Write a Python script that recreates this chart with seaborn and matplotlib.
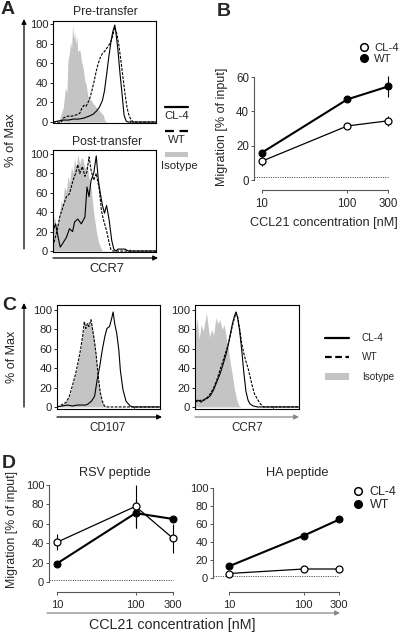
import numpy as np
import matplotlib
matplotlib.use("Agg")
import matplotlib.pyplot as plt
from matplotlib.patches import FancyArrowPatch, Rectangle, Patch
from matplotlib.lines import Line2D
import seaborn as sns

# ---------------- data ----------------
# flow histograms: channel position (0-100 across the log axis) and % of max
pre_iso_u = [0, 5, 6, 10, 12, 13.5, 14.5, 16, 17, 18, 19, 20, 21, 22, 23, 24, 26, 28, 29, 31, 32, 34, 37, 39, 42, 45, 47, 49, 50, 52, 100]
pre_iso_y = [0, 0, 2, 15, 35, 30, 63, 70, 82, 75, 99, 85, 92, 80, 88, 72, 74, 60, 57, 42, 39, 26, 22, 19, 15, 12, 9, 7, 2, 0, 0]
pre_cl4_u = [0, 5, 10, 15, 20, 25, 30, 35, 39, 42, 45, 48, 50, 52, 54, 56, 58, 60, 61, 63, 65, 67, 69, 71, 73, 100]
pre_cl4_y = [0, 1, 2, 2, 3, 3, 4, 6, 8, 11, 15, 22, 32, 48, 65, 80, 92, 99, 92, 74, 50, 29, 7, 1, 0, 0]
pre_wt_u = [0, 8, 10, 14, 18, 22, 26, 28, 30, 32, 34, 36, 38, 40, 42, 44, 46, 48, 50, 52, 54, 56, 58, 60, 62, 64, 66, 68, 70, 72, 74, 76, 78, 100]
pre_wt_y = [0, 0, 4, 6, 6, 7, 9, 14, 17, 16, 20, 25, 33, 42, 52, 60, 66, 70, 72, 75, 78, 82, 88, 97, 90, 78, 62, 45, 28, 14, 6, 2, 0, 0]

post_iso_u = [0, 1.5, 3, 5, 6.5, 8, 9.5, 11, 13, 14.5, 16, 18, 19.5, 21, 22.5, 24, 26, 27.5, 29, 31, 33, 35, 36.5, 38, 39.5, 41, 42.5, 44, 46, 48, 100]
post_iso_y = [30, 35, 26, 30, 40, 52, 48, 66, 62, 77, 70, 87, 80, 95, 86, 99, 90, 96, 95, 85, 90, 75, 68, 55, 40, 28, 18, 10, 4, 0, 0]
post_cl4_u = [0, 2.5, 5, 7, 9.5, 13, 16, 19, 21, 24, 27.5, 31, 33, 35, 37, 39.5, 42, 44, 46, 48, 50, 52, 54.5, 57, 59, 61, 63, 66, 70, 73, 75, 100]
post_cl4_y = [21, 28, 14, 4, 8, 14, 23, 20, 30, 33, 28, 35, 66, 56, 73, 80, 98, 73, 59, 47, 39, 47, 32, 11, 2, 0, 2, 2, 2, 0, 0, 0]
post_wt_u = [0, 1.5, 4, 6.5, 9.5, 13, 16, 19.5, 22, 24, 26, 28.5, 31, 33, 35, 37, 39.5, 42, 45, 47, 49, 52, 54, 56, 58, 100]
post_wt_y = [5, 11, 21, 35, 45, 56, 59, 73, 80, 89, 80, 87, 77, 82, 97, 83, 73, 80, 63, 42, 32, 21, 11, 2, 0, 0]

cd107_iso_u = [0, 2.5, 6, 9, 13, 16, 19, 21, 23.5, 25, 27, 28.5, 30, 32, 33.5, 35, 36.5, 38, 40, 41.5, 43, 45.5, 48, 100]
cd107_iso_y = [0, 0, 3, 6, 13, 26, 38, 49, 62, 76, 86, 83, 88, 85, 88, 79, 69, 52, 31, 18, 8, 2, 0, 0]
cd107_wt_u = [0, 2.5, 6, 9, 12, 15, 18, 20.5, 23, 25, 26.5, 28, 29.5, 31, 33, 34.5, 36, 38, 40, 42, 44, 46, 49, 100]
cd107_wt_y = [0, 1, 3, 5, 11, 22, 34, 46, 60, 74, 88, 81, 86, 83, 90, 80, 70, 54, 32, 15, 6, 1, 0, 0]
cd107_cl4_u = [0, 5, 10, 15, 20, 25, 28, 30, 33.5, 36.5, 39, 41.5, 44, 46.5, 48.5, 51, 53, 54.5, 56, 58, 60, 61.5, 64, 67, 71, 74, 100]
cd107_cl4_y = [0, 1, 2, 1, 2, 2, 2, 3, 6, 11, 28, 42, 59, 73, 81, 83, 91, 98, 86, 76, 59, 38, 18, 6, 1, 0, 0]

ccr7_iso_u = [0, 2, 4, 6, 8, 11, 12, 14, 16, 18, 20, 22, 24, 26, 28, 30, 32, 34, 36, 38, 40, 42, 44, 100]
ccr7_iso_y = [75, 92, 70, 85, 78, 97, 88, 72, 80, 74, 92, 86, 90, 80, 85, 72, 60, 45, 32, 18, 8, 2, 0, 0]
ccr7_cl4_u = [0, 3, 6, 9, 12, 15, 18, 21, 24, 27, 30, 32, 34, 36, 38, 39.5, 41, 43, 45, 47, 49, 51, 53, 56, 60, 100]
ccr7_cl4_y = [6, 7, 5, 8, 9, 12, 18, 26, 34, 44, 55, 64, 75, 86, 94, 98, 92, 78, 58, 35, 16, 7, 3, 1, 0, 0]
ccr7_wt_u = [0, 3, 6, 9, 12, 15, 18, 21, 24, 27, 30, 32, 34, 36, 38, 39.5, 41, 43, 45, 47, 49, 51, 53, 55, 57, 60, 63, 66, 100]
ccr7_wt_y = [5, 6, 7, 7, 10, 14, 20, 28, 38, 48, 58, 65, 74, 84, 92, 97, 93, 80, 65, 55, 47, 40, 31, 22, 14, 8, 3, 0, 0]

# migration assays
conc = [10, 100, 300]
conc_labels = ["10", "100", "300"]
baseline = 2

b_cl4 = [11, 31.5, 34.5]
b_cl4_err = [3, 1, 3]
b_wt = [16, 47, 54.5]
b_wt_err = [1, 1, 6]

rsv_cl4 = [41, 78, 45]
rsv_cl4_err = [8, 22, 15]
rsv_wt = [19, 71, 65]
rsv_wt_err = [1, 15, 2]

ha_cl4 = [5, 10, 10]
ha_cl4_err = [1, 1, 2]
ha_wt = [13, 47, 65]
ha_wt_err = [1, 2, 1]

GRAY = "#c4c4c4"

sns.set_style("ticks")
plt.rcParams["font.family"] = ["Liberation Sans", "DejaVu Sans"]
plt.rcParams["axes.linewidth"] = 0.8

W, H = 400, 632
fig = plt.figure(figsize=(W / 100, H / 100), dpi=100)


def add_box(x0, y0, x1, y1):
    return fig.add_axes([x0 / W, 1 - y1 / H, (x1 - x0) / W, (y1 - y0) / H])


def ftext(x, y, s, **kw):
    kw.setdefault("ha", "center")
    kw.setdefault("va", "center")
    fig.text(x / W, 1 - y / H, s, **kw)


def farrow(x0, y0, x1, y1, color="black"):
    fig.add_artist(FancyArrowPatch((x0 / W, 1 - y0 / H), (x1 / W, 1 - y1 / H),
                                   transform=fig.transFigure, arrowstyle="-|>",
                                   mutation_scale=7, lw=0.9, color=color,
                                   shrinkA=0, shrinkB=0))


def to_x(u):
    return 10 ** (np.array(u) / 25)


def histo(ax, iso, cl4, wt, ylim, tick_size):
    ax.fill_between(to_x(iso[0]), iso[1], color=GRAY, lw=0)
    sns.lineplot(x=to_x(wt[0]), y=wt[1], ax=ax, color="black", lw=0.8,
                 linestyle=(0, (2.5, 1.2)), estimator=None, sort=False)
    sns.lineplot(x=to_x(cl4[0]), y=cl4[1], ax=ax, color="black", lw=0.8,
                 estimator=None, sort=False)
    ax.set_xscale("log")
    ax.set_xlim(1, 1e4)
    ax.set_ylim(*ylim)
    ax.set_yticks([0, 20, 40, 60, 80, 100])
    ax.tick_params(axis="y", length=2.5, width=0.7, pad=1, labelsize=tick_size)
    ax.tick_params(axis="x", which="both", direction="in", length=2, width=0.5,
                   labelbottom=False)
    ax.set_xlabel("")
    ax.set_ylabel("")
    for s in ax.spines.values():
        s.set_color("black")


def migration(ax, cl4, cl4_err, wt, wt_err, xlim, ylim, ymax, offset, tick_size):
    ax.errorbar(conc, wt, yerr=wt_err, fmt="none", ecolor="black", elinewidth=0.8, capsize=0)
    ax.errorbar(conc, cl4, yerr=cl4_err, fmt="none", ecolor="black", elinewidth=0.8, capsize=0)
    sns.lineplot(x=conc, y=wt, ax=ax, color="black", lw=1.5, marker="o", markersize=5,
                 markerfacecolor="black", markeredgecolor="black", zorder=3)
    sns.lineplot(x=conc, y=cl4, ax=ax, color="black", lw=0.9, marker="o", markersize=5,
                 markerfacecolor="white", markeredgecolor="black", markeredgewidth=0.9, zorder=4)
    ax.set_xscale("log")
    ax.set_xlim(*xlim)
    ax.set_ylim(*ylim)
    ax.hlines(baseline, xlim[0], conc[-1], colors="#555555", linestyles=(0, (1.2, 1.2)), lw=0.7)
    ax.set_xticks(conc)
    ax.set_xticklabels(conc_labels)
    ax.minorticks_off()
    ax.spines["top"].set_visible(False)
    ax.spines["right"].set_visible(False)
    ax.spines["bottom"].set_position(("outward", offset))
    ax.spines["bottom"].set_bounds(conc[0], conc[-1])
    ax.spines["left"].set_bounds(0, ymax)
    ax.spines["bottom"].set_color("#555555")
    ax.spines["left"].set_color("#555555")
    ax.tick_params(axis="x", length=2, width=0.7, pad=4, labelsize=tick_size, color="#555555")
    ax.tick_params(axis="y", length=2.5, width=0.7, pad=1, labelsize=tick_size, color="#555555")
    ax.set_xlabel("")
    ax.set_ylabel("")


# ---------------- panel A ----------------
ax_pre = add_box(53, 21, 156, 123)
histo(ax_pre, (pre_iso_u, pre_iso_y), (pre_cl4_u, pre_cl4_y), (pre_wt_u, pre_wt_y), (-1, 103.1), 8)
ax_post = add_box(53, 150, 156, 252)
histo(ax_post, (post_iso_u, post_iso_y), (post_cl4_u, post_cl4_y), (post_wt_u, post_wt_y), (-1, 104.1), 8)

ftext(8, 10, "A", fontsize=14, fontweight="bold")
ftext(105, 12, "Pre-transfer", fontsize=8.8)
ftext(107, 142, "Post-transfer", fontsize=8.8)
farrow(24, 249, 24, 19)
ftext(11, 140, "% of Max", fontsize=9.3, rotation=90)
farrow(53, 258, 158, 258)
ftext(107, 269, "CCR7", fontsize=9.3)

# legend of A (line above label)
fig.add_artist(Line2D([165 / W, 188 / W], [1 - 107 / H, 1 - 107 / H], color="black", lw=1.6,
                      transform=fig.transFigure))
ftext(177, 116, "CL-4", fontsize=8.2)
fig.add_artist(Line2D([165 / W, 188 / W], [1 - 131 / H, 1 - 131 / H], color="black", lw=1.6,
                      linestyle=(0, (4, 2.5)), transform=fig.transFigure))
ftext(177, 140, "WT", fontsize=8.2)
fig.add_artist(Rectangle((165 / W, 1 - 157 / H), 23 / W, 5 / H, color=GRAY, lw=0,
                         transform=fig.transFigure))
ftext(179, 166, "Isotype", fontsize=8.2)

# ---------------- panel B ----------------
ax_b = add_box(254, 75, 392, 181)
migration(ax_b, b_cl4, b_cl4_err, b_wt, b_wt_err, (8.05, 334), (-0.58, 61.2), 60, 6.5, 8.3)
ax_b.set_yticks([0, 20, 40, 60])
ftext(224, 11, "B", fontsize=14, fontweight="bold")
ftext(222, 127, "Migration [% of input]", fontsize=9, rotation=90)
ftext(324, 223, "CCL21 concentration [nM]", fontsize=9.2)
ax_b.legend(handles=[Line2D([], [], ls="none", marker="o", ms=5.5, mfc="white", mec="black", mew=1.1),
                     Line2D([], [], ls="none", marker="o", ms=5.5, mfc="black", mec="black")],
            labels=["CL-4", "WT"], loc="upper left", bbox_to_anchor=(354 / W, 1 - 37 / H),
            bbox_transform=fig.transFigure, frameon=False, handlelength=0.8,
            handletextpad=0.45, labelspacing=0.1, borderpad=0, fontsize=8.2)

# ---------------- panel C ----------------
ax_c1 = add_box(57, 305, 160, 409)
histo(ax_c1, (cd107_iso_u, cd107_iso_y), (cd107_cl4_u, cd107_cl4_y), (cd107_wt_u, cd107_wt_y), (-2.1, 105.2), 8.2)
ax_c2 = add_box(195, 305, 299, 409)
histo(ax_c2, (ccr7_iso_u, ccr7_iso_y), (ccr7_cl4_u, ccr7_cl4_y), (ccr7_wt_u, ccr7_wt_y), (-2.1, 105.2), 8.2)

ftext(9, 305, "C", fontsize=14, fontweight="bold")
farrow(24, 407, 24, 303)
ftext(12, 357, "% of Max", fontsize=9, rotation=90)
farrow(57, 417, 162, 417)
ftext(108, 428, "CD107", fontsize=8.4)
farrow(195, 417, 299, 417, color="#888888")
ftext(247, 428, "CCR7", fontsize=8.4)

ax_c2.legend(handles=[Line2D([], [], color="black", lw=1.6),
                      Line2D([], [], color="black", lw=1.6, linestyle=(0, (3, 1.6))),
                      Patch(facecolor=GRAY, edgecolor="none")],
             labels=["CL-4", "WT", "Isotype"], loc="upper left",
             bbox_to_anchor=(320 / W, 1 - 328 / H), bbox_transform=fig.transFigure,
             frameon=False, handlelength=2.4, handletextpad=1.3, labelspacing=0.95,
             borderpad=0, fontsize=7.2)

# ---------------- panel D ----------------
ax_d1 = add_box(49, 480, 178, 583)
migration(ax_d1, rsv_cl4, rsv_cl4_err, rsv_wt, rsv_wt_err, (7.93, 347), (-1.03, 105.2), 100, 6.5, 8)
ax_d1.set_yticks([0, 20, 40, 60, 80, 100])
ftext(115, 473, "RSV peptide", fontsize=9.2)

ax_d2 = add_box(213, 484, 344, 579)
migration(ax_d2, ha_cl4, ha_cl4_err, ha_wt, ha_wt_err, (6.12, 347), (-1.1, 104.4), 100, 9.4, 8)
ax_d2.set_yticks([0, 20, 40, 60, 80, 100])
ftext(297, 473, "HA peptide", fontsize=9.2)
ax_d2.legend(handles=[Line2D([], [], ls="none", marker="o", ms=5.5, mfc="white", mec="black", mew=1.1),
                      Line2D([], [], ls="none", marker="o", ms=5.5, mfc="black", mec="black")],
             labels=["CL-4", "WT"], loc="upper left", bbox_to_anchor=(347 / W, 1 - 480 / H),
             bbox_transform=fig.transFigure, frameon=False, handlelength=0.8,
             handletextpad=0.5, labelspacing=0.05, borderpad=0, fontsize=9)

ftext(9, 464, "D", fontsize=14, fontweight="bold")
ftext(12, 530, "Migration [% of input]", fontsize=8.9, rotation=90)
farrow(47, 613, 340, 613, color="#888888")
ftext(172, 625, "CCL21 concentration [nM]", fontsize=10.3)

fig.savefig("out.png", dpi=100)
